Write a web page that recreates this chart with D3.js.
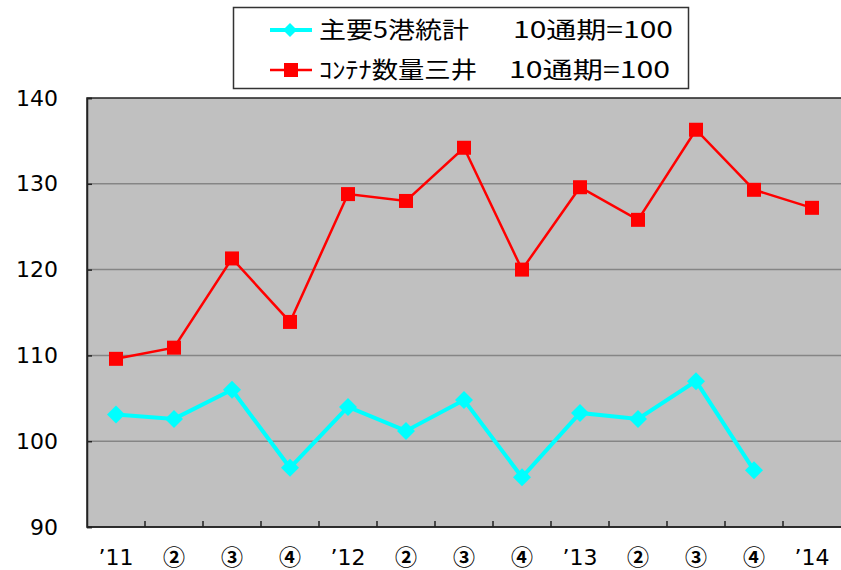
<!DOCTYPE html>
<html>
<head>
<meta charset="utf-8">
<script src="https://cdn.jsdelivr.net/npm/d3@7"></script>
<style>
  body { margin: 0; background: #fff; }
  svg { display: block; }
  .tick-label { font-family: "DejaVu Sans", sans-serif; font-size: 22px; fill: #000; }
  .tick-label.circled { font-family: "Noto Sans CJK JP", sans-serif; font-size: 22px; font-weight: 700; }
  .legend text { font-family: "Noto Sans CJK JP", sans-serif; font-size: 23px; fill: #000; }
</style>
</head>
<body>
<svg width="841" height="570"></svg>
<script>
// quarters, '11 .. '14
const categories = ["\u201911", "②", "③", "④", "\u201912", "②", "③", "④", "\u201913", "②", "③", "④", "\u201914"];
// 主要5港統計 (10通期=100)
const portStats = [103.1, 102.6, 106.0, 96.9, 104.0, 101.2, 104.8, 95.8, 103.3, 102.6, 107.0, 96.6, null];
// ｺﾝﾃﾅ数量三井 (10通期=100)
const mitsuiBoxes = [109.6, 110.9, 121.3, 113.9, 128.8, 128.0, 134.2, 120.0, 129.6, 125.8, 136.3, 129.3, 127.2];
const yTicks = [90, 100, 110, 120, 130, 140];

var svg = d3.select("svg"),
	width = +svg.attr("width"),
	height = +svg.attr("height");

var margin = {left: 87, right: 0, top: 98, bottom: 43};

var x = d3.scaleBand()
	.domain(d3.range(categories.length))
	.range([margin.left, width - margin.right]);

var y = d3.scaleLinear()
	.domain([90, 140])
	.range([height - margin.bottom, margin.top]);

// plot area
svg.append("rect")
	.attr("x", margin.left)
	.attr("y", margin.top)
	.attr("width", width - margin.left - margin.right + 2)
	.attr("height", y(90) - y(140))
	.attr("fill", "#c0c0c0")
	.attr("stroke", "#222")
	.attr("stroke-width", 1.5);

// gridlines
svg.append("g")
	.selectAll("line")
	.data(yTicks.filter(function (d) { return d > 90 && d < 140; }))
	.enter().append("line")
	.attr("x1", margin.left)
	.attr("x2", width)
	.attr("y1", function (d) { return y(d); })
	.attr("y2", function (d) { return y(d); })
	.attr("stroke", "#858585")
	.attr("stroke-width", 1.5);

// y axis
var yAxis = svg.append("g")
	.attr("transform", "translate(" + margin.left + ",0)")
	.call(d3.axisLeft(y).tickValues(yTicks).tickSize(-5).tickPadding(29));
yAxis.select(".domain").attr("stroke", "#222").attr("stroke-width", 1.5);
yAxis.selectAll(".tick line").attr("stroke", "#222").attr("stroke-width", 1.5);
yAxis.selectAll("text").attr("class", "tick-label").attr("font-size", null).attr("font-family", null);

// x axis: ticks between categories
var xAxisG = svg.append("g")
	.attr("transform", "translate(0," + y(90) + ")");
xAxisG.append("line")
	.attr("x1", margin.left).attr("x2", width)
	.attr("stroke", "#222").attr("stroke-width", 1.5);
xAxisG.selectAll(".xt")
	.data(d3.range(1, categories.length))
	.enter().append("line")
	.attr("class", "xt")
	.attr("x1", function (i) { return x(i); })
	.attr("x2", function (i) { return x(i); })
	.attr("y1", 0).attr("y2", -6)
	.attr("stroke", "#222").attr("stroke-width", 1.5);
xAxisG.selectAll("text")
	.data(categories)
	.enter().append("text")
	.attr("class", function (d) { return d.charAt(0) == "\u2019" ? "tick-label" : "tick-label circled"; })
	.attr("x", function (d, i) { return x(i) + x.bandwidth() / 2; })
	.attr("y", function (d) { return d.charAt(0) == "\u2019" ? 38 : 38; })
	.attr("text-anchor", "middle")
	.text(function (d) { return d; });

function cx(i) { return x(i) + x.bandwidth() / 2; }

var line = d3.line()
	.defined(function (d) { return d != null; })
	.x(function (d, i) { return cx(i); })
	.y(function (d) { return y(d); });

// red series
svg.append("path")
	.datum(mitsuiBoxes)
	.attr("d", line)
	.attr("fill", "none")
	.attr("stroke", "#ff0000")
	.attr("stroke-width", 2.5);
svg.append("g").selectAll("rect")
	.data(mitsuiBoxes)
	.enter().append("rect")
	.attr("x", function (d, i) { return cx(i) - 7; })
	.attr("y", function (d) { return y(d) - 7; })
	.attr("width", 14).attr("height", 14)
	.attr("fill", "#ff0000");

// cyan series
svg.append("path")
	.datum(portStats)
	.attr("d", line)
	.attr("fill", "none")
	.attr("stroke", "#00ffff")
	.attr("stroke-width", 4);
svg.append("g").selectAll("path")
	.data(portStats.map(function (d, i) { return [d, i]; }).filter(function (p) { return p[0] != null; }))
	.enter().append("path")
	.attr("d", "M0,-9L9,0L0,9L-9,0Z")
	.attr("transform", function (p) { return "translate(" + cx(p[1]) + "," + y(p[0]) + ")"; })
	.attr("fill", "#00ffff");

// legend
var legend = svg.append("g").attr("class", "legend");
legend.append("rect")
	.attr("x", 233.5).attr("y", 7.5)
	.attr("width", 455).attr("height", 81)
	.attr("fill", "#fff")
	.attr("stroke", "#333")
	.attr("stroke-width", 1.5);

var items = [
	{label: "主要5港統計", labelW: 150, base: "10通期=100", baseX: 513, baseW: 160, color: "#00ffff", shape: "diamond", w: 4},
	{label: "ｺﾝﾃﾅ数量三井", labelW: 158, base: "10通期=100", baseX: 509, baseW: 161, color: "#ff0000", shape: "square", w: 2.5}
];
items.forEach(function (it, k) {
	var ly = 30 + k * 40;
	legend.append("line")
		.attr("x1", 270).attr("x2", 312)
		.attr("y1", ly).attr("y2", ly)
		.attr("stroke", it.color).attr("stroke-width", it.w);
	if (it.shape == "diamond")
		legend.append("path").attr("d", "M0,-7L7,0L0,7L-7,0Z")
			.attr("transform", "translate(290," + ly + ")").attr("fill", it.color);
	else
		legend.append("rect").attr("x", 284).attr("y", ly - 7).attr("width", 14).attr("height", 14)
			.attr("fill", it.color);
	legend.append("text").attr("x", 319).attr("y", ly).attr("dy", "0.36em")
		.attr("textLength", it.labelW).attr("lengthAdjust", "spacingAndGlyphs")
		.text(it.label);
	legend.append("text").attr("x", it.baseX).attr("y", ly).attr("dy", "0.36em")
		.attr("textLength", it.baseW).attr("lengthAdjust", "spacingAndGlyphs")
		.text(it.base);
});
</script>
</body>
</html>
